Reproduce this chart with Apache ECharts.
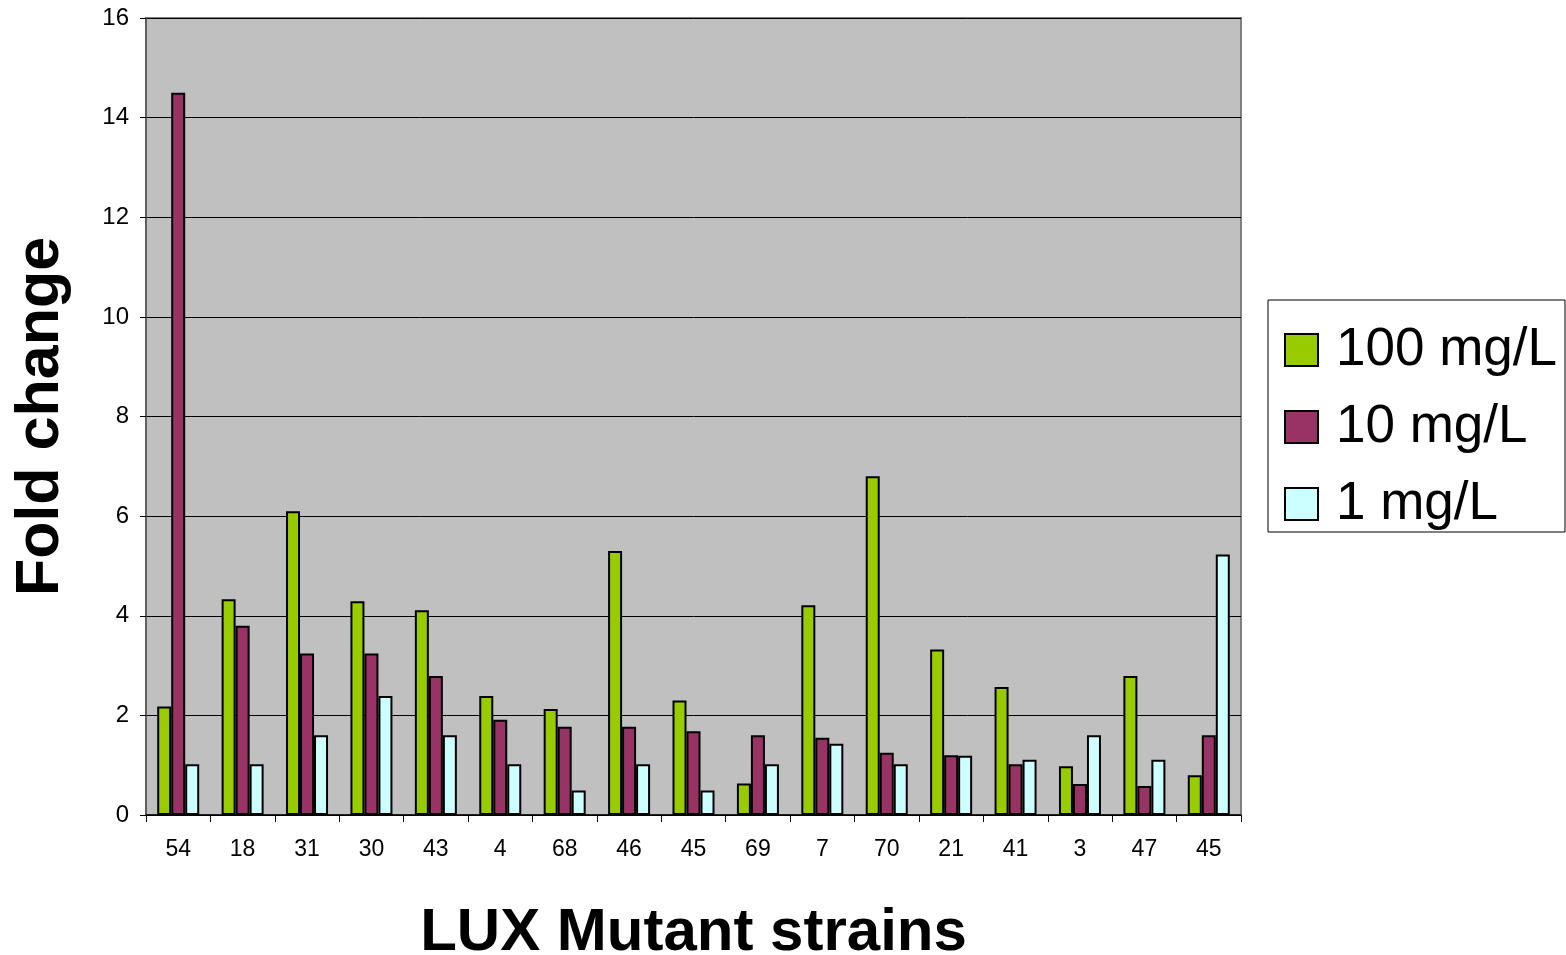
<!DOCTYPE html>
<html>
<head>
<meta charset="utf-8">
<title>Fold change of LUX mutant strains</title>
<script src="https://cdn.jsdelivr.net/npm/echarts@6/dist/echarts.min.js"></script>
<style>
  html, body { margin: 0; padding: 0; background: #ffffff; }
  #chart { width: 1566px; height: 955px; }
</style>
</head>
<body>
<div id="chart"></div>
<script>
// Mutant strains along the x axis
const strains = ['54', '18', '31', '30', '43', '4', '68', '46', '45', '69', '7', '70', '21', '41', '3', '47', '45'];

// Fold change per concentration
const conc100 = [2.18, 4.33, 6.1, 4.29, 4.11, 2.39, 2.13, 5.3, 2.3, 0.63, 4.21, 6.8, 3.32, 2.57, 0.98, 2.79, 0.8];
const conc10  = [14.5, 3.8, 3.24, 3.24, 2.79, 1.91, 1.77, 1.77, 1.68, 1.6, 1.55, 1.25, 1.2, 1.02, 0.62, 0.58, 1.6];
const conc1   = [1.02, 1.02, 1.6, 2.39, 1.6, 1.02, 0.49, 1.02, 0.49, 1.02, 1.43, 1.02, 1.19, 1.11, 1.6, 1.11, 5.23];

const seriesNames = ['100 mg/L', '10 mg/L', '1 mg/L'];
const seriesColors = ['#99cc00', '#993366', '#ccffff'];

const FONT = '"Liberation Sans", Arial, sans-serif';

const chart = echarts.init(document.getElementById('chart'), null, { renderer: 'canvas' });

function barSeries(i, data) {
  return {
    name: seriesNames[i],
    type: 'bar',
    data: data,
    barWidth: 14,
    barGap: '0%',
    itemStyle: { color: seriesColors[i], borderColor: '#000000', borderWidth: 2 },
    emphasis: { disabled: true }
  };
}

chart.setOption({
  animation: false,
  textStyle: { fontFamily: FONT },
  grid: {
    left: 146, right: 325, top: 18, bottom: 140,
    show: true,
    backgroundColor: '#c0c0c0',
    borderColor: '#808080',
    borderWidth: 2,
    containLabel: false,
    outerBoundsMode: 'none'
  },
  legend: {
    orient: 'vertical',
    left: 1268,
    top: 300,
    padding: [22, 8, 0, 16],
    backgroundColor: '#ffffff',
    borderColor: '#000000',
    borderWidth: 1,
    borderRadius: 0,
    itemWidth: 33,
    itemHeight: 32,
    itemGap: 21,
    icon: 'rect',
    selectedMode: false,
    textStyle: { fontSize: 53, color: '#000000', fontFamily: FONT, lineHeight: 56, padding: [0, 0, 0, 13] },
    data: seriesNames
  },
  xAxis: {
    type: 'category',
    data: strains,
    name: 'LUX Mutant strains',
    nameLocation: 'middle',
    nameGap: 88,
    nameTextStyle: { fontSize: 60, fontWeight: 'bold', color: '#000000', fontFamily: FONT },
    axisLine: { show: true, lineStyle: { color: '#000000', width: 1.5 } },
    axisTick: { show: true, length: 7, lineStyle: { color: '#000000', width: 1 }, alignWithLabel: false },
    axisLabel: { fontSize: 23, color: '#000000', margin: 23, fontFamily: FONT, interval: 0 },
    splitLine: { show: false }
  },
  yAxis: {
    type: 'value',
    min: 0,
    max: 16,
    interval: 2,
    name: 'Fold change',
    nameLocation: 'middle',
    nameGap: 74,
    nameRotate: 90,
    nameTextStyle: { fontSize: 61, fontWeight: 'bold', color: '#000000', fontFamily: FONT },
    axisLine: { show: true, lineStyle: { color: '#555555', width: 1.5 } },
    axisTick: { show: true, length: 6, inside: false, lineStyle: { color: '#000000', width: 1 } },
    axisLabel: { fontSize: 24, color: '#000000', margin: 17, fontFamily: FONT },
    splitLine: { show: true, lineStyle: { color: '#000000', width: 1 } }
  },
  series: [
    barSeries(0, conc100),
    barSeries(1, conc10),
    barSeries(2, conc1)
  ]
});
</script>
</body>
</html>
